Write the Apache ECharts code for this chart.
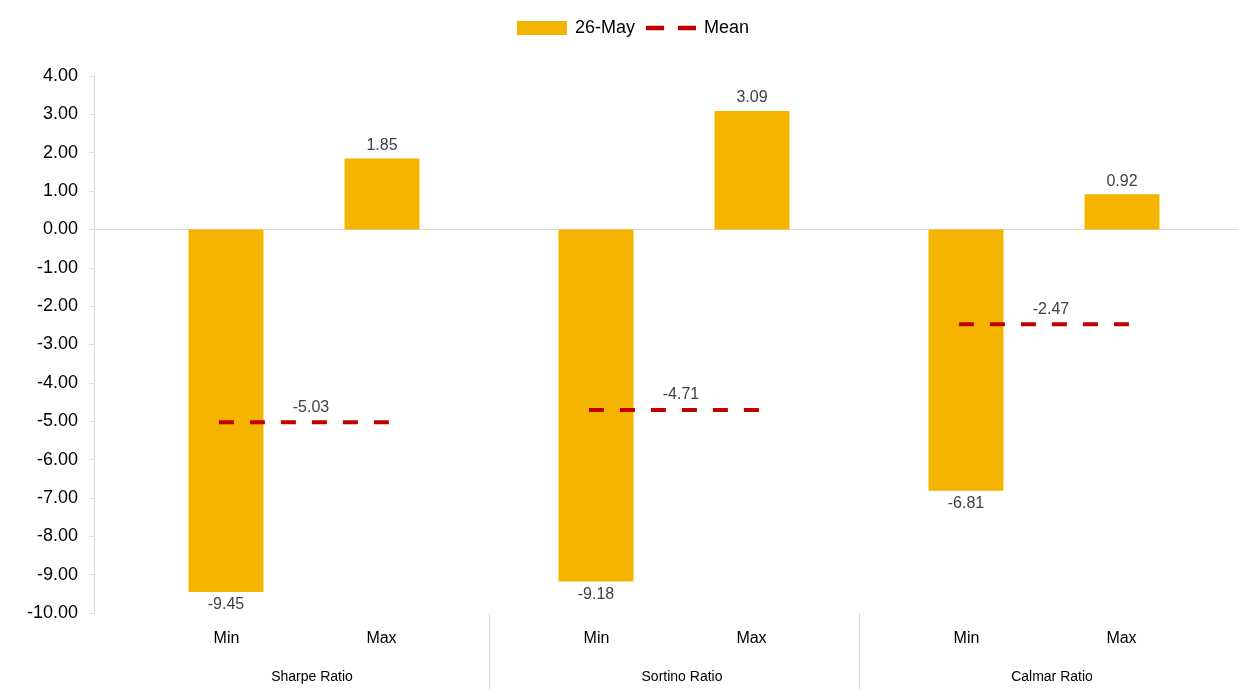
<!DOCTYPE html>
<html>
<head>
<meta charset="utf-8">
<script src="https://cdn.jsdelivr.net/npm/echarts@6/dist/echarts.min.js"></script>
<style>
  html, body { margin: 0; padding: 0; background: #fff; }
  #chart { width: 1238px; height: 695px; }
</style>
</head>
<body>
<div id="chart"></div>
<script>
// ratio groups and their two sub-categories
const groups = ['Sharpe Ratio', 'Sortino Ratio', 'Calmar Ratio'];
const subCats = ['Min', 'Max'];
const minVals = [-9.45, -9.18, -6.81];
const maxVals = [1.85, 3.09, 0.92];
const meanVals = [-5.03, -4.71, -2.47];
const yTicks = { min: -10, max: 4, step: 1 };

const barColor = '#F5B400';
const meanColor = '#C00000';
const gridColor = '#d9d9d9';
const font = 'Liberation Sans, Arial, sans-serif';

function barData(vals) {
    return vals.map(v => ({
        value: v,
        label: { position: v < 0 ? 'bottom' : 'top' },
    }));
}

const barLabel = {
    show: true,
    distance: 5,
    color: '#404040',
    fontSize: 16,
    fontFamily: font,
    formatter: p => p.value.toFixed(2),
};

const chart = echarts.init(document.getElementById('chart'));
chart.setOption({
    animation: false,
    legend: {
        top: 14,
        left: 512,
        itemWidth: 50,
        itemHeight: 14,
        itemGap: 11,
        textStyle: { fontSize: 18, color: '#000', fontFamily: font, padding: [0, 0, 0, 3] },
        data: [
            { name: '26-May', icon: 'rect' },
            { name: 'Mean', icon: 'path://M0,0h17v4h-17z M30,0h17v4h-17z' },
        ],
    },
    grid: [
        { left: 94, right: 0, top: 76, bottom: 82 },
        { left: 119, right: 9, top: 76, bottom: 82 },
    ],
    xAxis: [
        {
            // only draws the zero line across the plot
            gridIndex: 0,
            type: 'category',
            data: [''],
            axisLine: { show: true, onZero: true, lineStyle: { color: gridColor, width: 1 } },
            axisTick: { show: false },
            axisLabel: { show: false },
        },
        {
            gridIndex: 1,
            type: 'category',
            data: groups,
            axisLine: { show: false, onZero: false },
            axisTick: { show: false },
            axisLabel: {
                margin: 7,
                interval: 0,
                fontFamily: font,
                formatter: v => `{s|${subCats[0]}}{s|${subCats[1]}}\n{g|${v}}`,
                rich: {
                    s: { width: 155, align: 'center', fontSize: 16, color: '#000', lineHeight: 38, fontFamily: font },
                    g: { align: 'center', fontSize: 14, color: '#000', lineHeight: 38, padding: [0, 0, 0, 16], fontFamily: font },
                },
            },
        },
    ],
    yAxis: [
        {
            gridIndex: 0,
            type: 'value',
            min: yTicks.min,
            max: yTicks.max,
            interval: yTicks.step,
            axisLine: { show: true, lineStyle: { color: gridColor } },
            axisTick: { show: true, length: 5, lineStyle: { color: gridColor } },
            splitLine: { show: false },
            axisLabel: {
                margin: 16,
                fontSize: 18,
                color: '#000',
                fontFamily: font,
                formatter: v => v.toFixed(2),
            },
        },
        {
            gridIndex: 1,
            type: 'value',
            min: yTicks.min,
            max: yTicks.max,
            interval: yTicks.step,
            show: false,
        },
    ],
    series: [
        {
            name: '26-May',
            type: 'bar',
            xAxisIndex: 1,
            yAxisIndex: 1,
            barWidth: 75,
            barGap: '108%',
            itemStyle: { color: barColor },
            label: barLabel,
            data: barData(minVals),
        },
        {
            name: '26-May',
            type: 'bar',
            xAxisIndex: 1,
            yAxisIndex: 1,
            barWidth: 75,
            barGap: '108%',
            itemStyle: { color: barColor },
            label: barLabel,
            data: barData(maxVals),
        },
        {
            name: 'Mean',
            type: 'custom',
            xAxisIndex: 1,
            yAxisIndex: 1,
            z: 5,
            itemStyle: { color: meanColor },
            data: meanVals.map((v, i) => [i, v]),
            renderItem: function(params, api) {
                const pt = api.coord([api.value(0), api.value(1)]);
                const half = api.size([1, 0])[0] * 0.23;
                return {
                    type: 'group',
                    children: [
                        {
                            type: 'line',
                            shape: { x1: pt[0] - half, y1: pt[1], x2: pt[0] + half, y2: pt[1] },
                            style: { stroke: meanColor, lineWidth: 4, lineDash: [15, 16] },
                        },
                        {
                            type: 'text',
                            x: pt[0] + 7,
                            y: pt[1] - 15,
                            style: {
                                text: api.value(1).toFixed(2),
                                align: 'center',
                                verticalAlign: 'middle',
                                fill: '#404040',
                                fontSize: 16,
                                fontFamily: font,
                            },
                        },
                    ],
                };
            },
        },
        {
            // group separators below the axis, between categories only
            name: 'separators',
            type: 'custom',
            xAxisIndex: 1,
            yAxisIndex: 1,
            silent: true,
            clip: false,
            data: groups.slice(1).map((g, i) => [i + 1, yTicks.min]),
            renderItem: function(params, api) {
                const pt = api.coord([api.value(0), api.value(1)]);
                const x = Math.round(pt[0] - api.size([1, 0])[0] / 2) + 0.5;
                return {
                    type: 'line',
                    shape: { x1: x, y1: pt[1], x2: x, y2: pt[1] + 77 },
                    style: { stroke: gridColor, lineWidth: 1 },
                };
            },
        },
    ],
});
</script>
</body>
</html>
